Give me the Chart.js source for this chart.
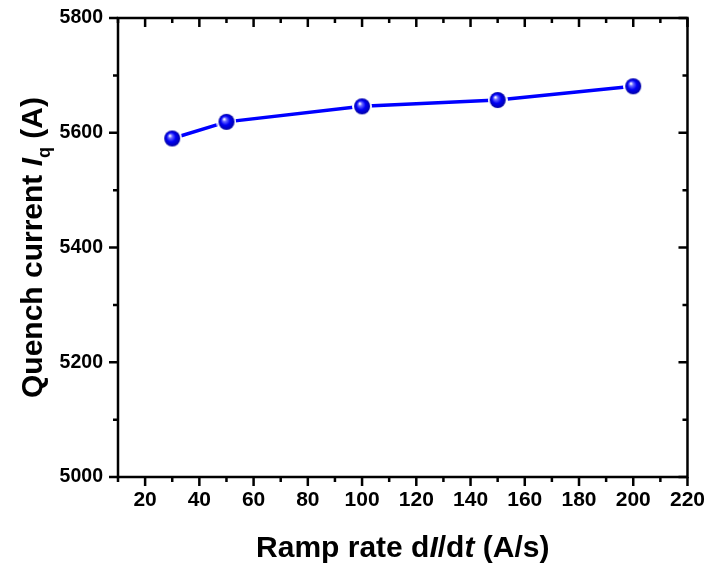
<!DOCTYPE html>
<html>
<head>
<meta charset="utf-8">
<script src="https://cdn.jsdelivr.net/npm/chart.js@4.4.1/dist/chart.umd.min.js"></script>
<style>
  html, body { margin: 0; padding: 0; background: #fff; }
  #wrap { width: 707px; height: 564px; }
</style>
</head>
<body>
<div id="wrap"><canvas id="myChart" width="707" height="564"></canvas></div>
<script>
// data
const rampRate = [30, 50, 100, 150, 200];
const quenchCurrent = [5590, 5619, 5646, 5657, 5681];
const xTicks = [20, 40, 60, 80, 100, 120, 140, 160, 180, 200, 220];
const yTicks = [5000, 5200, 5400, 5600, 5800];

// shaded sphere marker with a thin white ring (gap round the line)
function makeSphere(r) {
    const pad = 2;
    const size = (r + pad) * 2;
    const c = document.createElement('canvas');
    c.width = size; c.height = size;
    const g = c.getContext('2d');
    const cx = size / 2, cy = size / 2;
    g.beginPath();
    g.arc(cx, cy, r + pad, 0, Math.PI * 2);
    g.fillStyle = '#ffffff';
    g.fill();
    const grad = g.createRadialGradient(cx - r * 0.3, cy - r * 0.35, 0.5, cx, cy, r);
    grad.addColorStop(0, '#ffffff');
    grad.addColorStop(0.2, '#6a6aff');
    grad.addColorStop(0.55, '#0000f5');
    grad.addColorStop(1, '#0000a5');
    g.beginPath();
    g.arc(cx, cy, r, 0, Math.PI * 2);
    g.fillStyle = grad;
    g.fill();
    return c;
}

const frameAndTicks = {
    id: 'frameAndTicks',
    afterDraw(chart) {
        const ctx = chart.ctx;
        const a = chart.chartArea;
        const xs = chart.scales.x, ys = chart.scales.y;
        ctx.save();
        ctx.strokeStyle = '#000';
        ctx.lineWidth = 2.5;
        ctx.strokeRect(a.left, a.top, a.right - a.left, a.bottom - a.top);

        ctx.beginPath();
        for (let v = 10; v <= 220; v += 10) {
            const px = xs.getPixelForValue(v);
            const len = (v % 20 === 0) ? 9 : 5;
            ctx.moveTo(px, a.bottom); ctx.lineTo(px, a.bottom + len);
            ctx.moveTo(px, a.top); ctx.lineTo(px, a.top + len);
        }
        for (let v = 5000; v <= 5800; v += 100) {
            const py = ys.getPixelForValue(v);
            const len = (v % 200 === 0) ? 9 : 5;
            ctx.moveTo(a.left, py); ctx.lineTo(a.left - len, py);
            ctx.moveTo(a.right, py); ctx.lineTo(a.right - len, py);
        }
        ctx.stroke();

        // axis titles with italic / subscript parts
        const bold = 'bold 30px "Liberation Sans", Arial, sans-serif';
        const boldIt = 'italic bold 30px "Liberation Sans", Arial, sans-serif';
        const sub = 'bold 18px "Liberation Sans", Arial, sans-serif';
        ctx.fillStyle = '#000';
        ctx.textBaseline = 'alphabetic';
        ctx.textAlign = 'left';

        function drawParts(parts, cx, baseY) {
            let w = 0;
            parts.forEach(p => { ctx.font = p[1]; w += ctx.measureText(p[0]).width; });
            let x = cx - w / 2;
            parts.forEach(p => {
                ctx.font = p[1];
                ctx.fillText(p[0], x, baseY + (p[2] || 0));
                x += ctx.measureText(p[0]).width;
            });
        }

        drawParts([
            ['Ramp rate d', bold], ['I', boldIt], ['/d', bold], ['t', boldIt], [' (A/s)', bold]
        ], (a.left + a.right) / 2, 557);

        ctx.save();
        ctx.translate(42, (a.top + a.bottom) / 2);
        ctx.rotate(-Math.PI / 2);
        drawParts([
            ['Quench current ', bold], ['I', boldIt], ['q', sub, 8], [' (A)', bold]
        ], 0, 0);
        ctx.restore();

        ctx.restore();
    }
};

const family = '"Liberation Sans", Arial, sans-serif';

new Chart(document.getElementById('myChart').getContext('2d'), {
    type: 'line',
    data: {
        datasets: [{
            data: rampRate.map((x, i) => ({ x: x, y: quenchCurrent[i] })),
            borderColor: '#0000ff',
            borderWidth: 3.5,
            pointStyle: makeSphere(8),
            pointRadius: 10,
            pointHoverRadius: 10,
            tension: 0,
            fill: false
        }]
    },
    options: {
        responsive: false,
        animation: false,
        events: [],
        layout: { padding: { left: 0, right: 18, top: 18, bottom: 0 } },
        plugins: { legend: { display: false }, tooltip: { enabled: false } },
        scales: {
            x: {
                type: 'linear',
                min: 10,
                max: 220,
                afterBuildTicks: s => { s.ticks = xTicks.map(v => ({ value: v })); },
                afterFit: s => { s.height = 87; },
                border: { display: false },
                grid: { drawOnChartArea: false, drawTicks: true, tickLength: 9, tickColor: 'rgba(0,0,0,0)' },
                ticks: { color: '#000', font: { family: family, size: 21, weight: 'bold' }, padding: 2,
                         maxRotation: 0, autoSkip: false, callback: v => String(v) }
            },
            y: {
                type: 'linear',
                min: 5000,
                max: 5800,
                afterBuildTicks: s => { s.ticks = yTicks.map(v => ({ value: v })); },
                afterFit: s => { s.width = 118; },
                border: { display: false },
                grid: { drawOnChartArea: false, drawTicks: true, tickLength: 10, tickColor: 'rgba(0,0,0,0)' },
                ticks: { color: '#000', font: { family: family, size: 19.5, weight: 'bold' }, padding: 5,
                         autoSkip: false, callback: v => String(v) }
            }
        }
    },
    plugins: [frameAndTicks]
});
</script>
</body>
</html>
